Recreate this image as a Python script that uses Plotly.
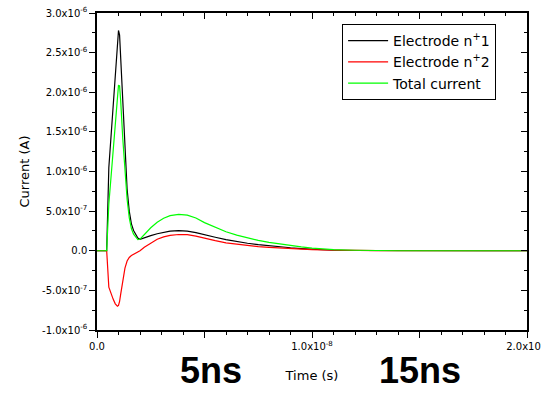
import plotly.graph_objects as go

# Time samples (ns) and currents (µA) for the two electrodes and their sum
time_ns = [0, 0.45, 0.55, 0.65, 0.75, 0.85, 0.95, 1.0, 1.05, 1.1, 1.2, 1.3, 1.4,
           1.5, 1.6, 1.7, 1.8, 1.9, 2.0, 2.2, 2.5, 2.8, 3.1, 3.4, 3.8, 4.2, 4.6,
           5.0, 5.5, 6.0, 6.5, 7.0, 7.5, 8.0, 8.5, 9.0, 9.5, 10.0, 10.5, 11.0,
           12.0, 13.0, 14.0, 16.0, 18.0, 20.0]
electrode1_uA = [0, 0, 1.05, 1.45, 1.85, 2.25, 2.66, 2.78, 2.72, 2.45, 1.78, 1.20,
                 0.78, 0.50, 0.34, 0.255, 0.20, 0.16, 0.145, 0.16, 0.19, 0.215,
                 0.235, 0.248, 0.253, 0.247, 0.228, 0.198, 0.17, 0.14, 0.115,
                 0.095, 0.077, 0.062, 0.05, 0.038, 0.028, 0.018, 0.01, 0.006,
                 0.003, 0.001, 0, 0, 0, 0]
electrode2_uA = [0, 0, -0.46, -0.54, -0.61, -0.67, -0.70, -0.69, -0.64, -0.55,
                 -0.37, -0.22, -0.13, -0.085, -0.06, -0.045, -0.03, -0.02, 0.0,
                 0.045, 0.10, 0.145, 0.175, 0.195, 0.205, 0.203, 0.185, 0.157,
                 0.128, 0.10, 0.082, 0.066, 0.053, 0.043, 0.034, 0.027, 0.02,
                 0.014, 0.01, 0.007, 0.003, 0.001, 0, 0, 0, 0]
total_uA = [0, 0, 0.59, 0.91, 1.24, 1.58, 1.96, 2.09, 2.08, 1.90, 1.41, 0.98,
            0.65, 0.415, 0.28, 0.21, 0.17, 0.14, 0.145, 0.205, 0.29, 0.36, 0.41,
            0.443, 0.458, 0.45, 0.413, 0.355, 0.298, 0.24, 0.197, 0.161, 0.13,
            0.105, 0.084, 0.065, 0.048, 0.032, 0.02, 0.013, 0.006, 0.002, 0, 0,
            0, 0]

x_tick_vals = [0, 5e-9, 1e-8, 1.5e-8, 2e-8]
x_tick_text = ["0.0", "", "1.0x10<sup>-8</sup>", "", "2.0x10<sup>-8</sup>"]
y_tick_vals = [-1e-6, -5e-7, 0, 5e-7, 1e-6, 1.5e-6, 2e-6, 2.5e-6, 3e-6]
y_tick_text = ["-1.0x10<sup>-6</sup>", "-5.0x10<sup>-7</sup>", "0.0",
               "5.0x10<sup>-7</sup>", "1.0x10<sup>-6</sup>", "1.5x10<sup>-6</sup>",
               "2.0x10<sup>-6</sup>", "2.5x10<sup>-6</sup>", "3.0x10<sup>-6</sup>"]

t_s = [v * 1e-9 for v in time_ns]
to_A = lambda vals: [v * 1e-6 for v in vals]

FONT = "DejaVu Sans"

fig = go.Figure()
fig.add_trace(go.Scatter(x=t_s, y=to_A(electrode1_uA), mode="lines",
                         name="Electrode n<sup>+</sup>1",
                         line=dict(color="#000000", width=1.2)))
fig.add_trace(go.Scatter(x=t_s, y=to_A(electrode2_uA), mode="lines",
                         name="Electrode n<sup>+</sup>2",
                         line=dict(color="#ff0000", width=1.2)))
fig.add_trace(go.Scatter(x=t_s, y=to_A(total_uA), mode="lines",
                         name="Total current",
                         line=dict(color="#00ff00", width=1.2)))
# Empty trace that activates the top/right frame axes
fig.add_trace(go.Scatter(x=[None], y=[None], xaxis="x2", yaxis="y2",
                         showlegend=False, hoverinfo="skip"))

x_range = [0, 2e-8]
y_range = [-1e-6, 3e-6]

common = dict(showgrid=False, zeroline=False, showline=True,
              linecolor="black", linewidth=1.5, tickcolor="black",
              tickwidth=1, automargin=False)

fig.update_layout(
    width=541, height=394,
    margin=dict(l=97, r=14, t=13, b=64),
    paper_bgcolor="white", plot_bgcolor="white",
    font=dict(family=FONT, color="black"),
    xaxis=dict(range=x_range, tickmode="array", tickvals=x_tick_vals,
               ticktext=x_tick_text, ticks="outside", ticklen=6,
               tickfont=dict(size=10), ticklabeloverflow="allow",
               minor=dict(tick0=0, dtick=1e-9, ticks="outside", ticklen=3,
                          tickcolor="black"),
               title=dict(text="Time (s)", font=dict(size=13), standoff=20),
               **common),
    yaxis=dict(range=y_range, tickmode="array", tickvals=y_tick_vals,
               ticktext=y_tick_text, ticks="outside", ticklen=6,
               tickfont=dict(size=10), ticklabeloverflow="allow",
               minor=dict(tick0=0, dtick=2.5e-7, ticks="outside", ticklen=3,
                          tickcolor="black"),
               title=dict(text="Current (A)", font=dict(size=13), standoff=10),
               **common),
    xaxis2=dict(range=x_range, overlaying="x", side="top", anchor="y2",
                tickmode="array", tickvals=x_tick_vals, ticks="inside",
                ticklen=6, showticklabels=False,
                minor=dict(tick0=0, dtick=1e-9, ticks="inside", ticklen=3,
                           tickcolor="black"),
                **common),
    yaxis2=dict(range=y_range, overlaying="y", side="right", anchor="x2",
                tickmode="array", tickvals=y_tick_vals, ticks="inside",
                ticklen=6, showticklabels=False,
                minor=dict(tick0=0, dtick=2.5e-7, ticks="inside", ticklen=3,
                           tickcolor="black"),
                **common),
    legend=dict(x=0.57, y=0.965, xanchor="left", yanchor="top",
                bgcolor="white", bordercolor="black", borderwidth=1,
                itemwidth=40, font=dict(family=FONT, size=14)),
    showlegend=True,
)

# Large markers for the 5 ns and 15 ns positions below the time axis
for label, xpos in [("5ns", 5.3e-9), ("15ns", 15e-9)]:
    fig.add_annotation(text=label, x=xpos, xref="x", y=-0.128, yref="paper",
                       xanchor="center", yanchor="middle", showarrow=False,
                       font=dict(family="Liberation Sans", size=36,
                                 color="black", weight="bold"))

fig.write_html("out.html")
